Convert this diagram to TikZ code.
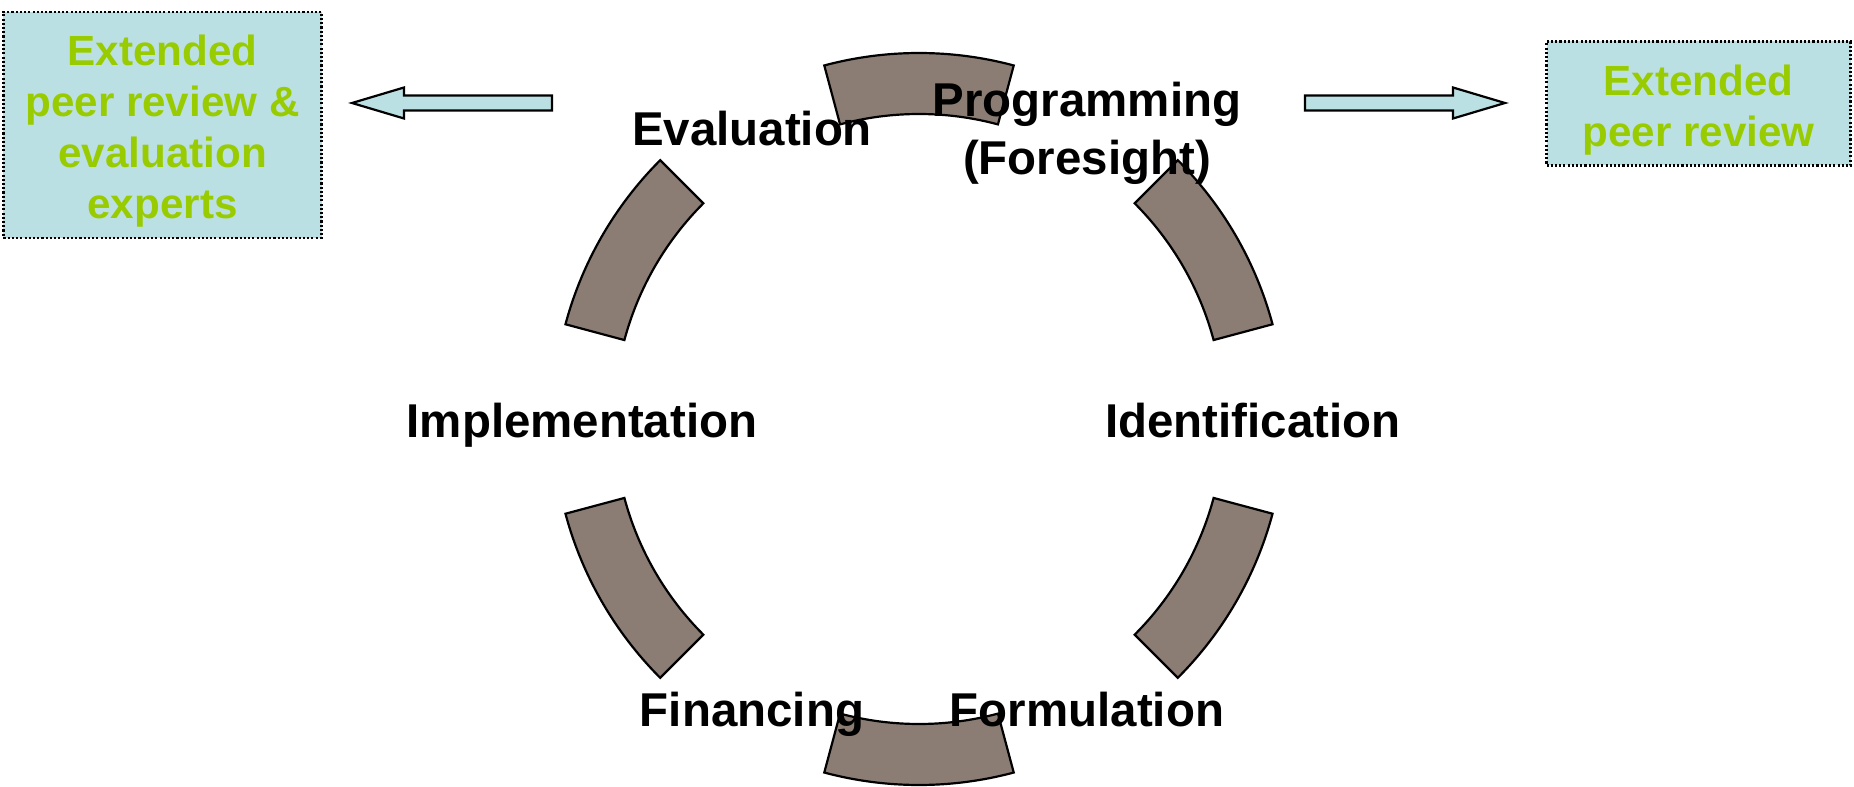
\documentclass[tikz,border=0pt]{standalone}
\usepackage{fontspec}
\setmainfont{Liberation Sans}
\usetikzlibrary{calc}
\definecolor{segbrown}{RGB}{139,125,116}
\definecolor{peercyan}{RGB}{187,224,227}
\definecolor{peergreen}{RGB}{153,204,0}
\newcommand{\toppad}{\rule{0pt}{0.86cm}}

\begin{document}
\begin{tikzpicture}[
        segment/.style={draw=black, fill=segbrown, line width=1.25pt},
        stage/.style={font=\fontsize{27}{33}\selectfont\bfseries, align=center},
        peerbox/.style={draw=black, fill=peercyan, line width=1.25pt, dash pattern=on 1.2pt off 1.2pt,
            text=peergreen, font=\fontsize{24}{29}\selectfont\bfseries, align=center, inner sep=0pt},
        blockarrow/.style={draw=black, fill=peercyan, line width=1.25pt}
    ]
        \useasboundingbox (0,0) rectangle (37.08,15.72);

        % ring of six segments
        \coordinate (hub) at (18.38,7.34);
        \foreach \a in {90,30,-30,-90,-150,150}
            \draw[segment] ($(hub)+(\a-15:7.32)$) arc[start angle=\a-15, end angle=\a+15, radius=7.32]
                -- ($(hub)+(\a+15:6.1)$) arc[start angle=\a+15, end angle=\a-15, radius=6.1] -- cycle;

        \node[stage, anchor=base] (eval) at (15.04,12.8) {Evaluation};
        \node[stage] (prog) at (21.74,13.06) {Programming\\(Foresight)};
        \node[stage, anchor=base] (impl) at (11.64,6.98) {Implementation};
        \node[stage, anchor=base] (ident) at (25.06,6.98) {Identification};
        \node[stage, anchor=base] (fin) at (15.04,1.19) {Financing};
        \node[stage, anchor=base] (form) at (21.74,1.19) {Formulation};

        \node[peerbox, minimum width=6.36cm, minimum height=4.52cm] (reviewleft) at (3.25,13.225)
            {\toppad Extended\\peer review \&\\evaluation\\experts};
        \node[peerbox, minimum width=6.08cm, minimum height=2.48cm] (reviewright) at (33.97,13.65)
            {\toppad Extended\\peer review};

        % block arrows
        \coordinate (lefttail) at (11.04,13.66);
        \coordinate (righttail) at (26.1,13.66);
        \draw[blockarrow] (lefttail) ++(0,-0.15) -- ++(-2.96,0) -- ++(0,-0.16) -- ++(-1.04,0.31)
            -- ++(1.04,0.31) -- ++(0,-0.16) -- ++(2.96,0) -- cycle;
        \draw[blockarrow] (righttail) ++(0,-0.15) -- ++(2.96,0) -- ++(0,-0.16) -- ++(1.04,0.31)
            -- ++(-1.04,0.31) -- ++(0,-0.16) -- ++(-2.96,0) -- cycle;

    \end{tikzpicture}
\end{document}
